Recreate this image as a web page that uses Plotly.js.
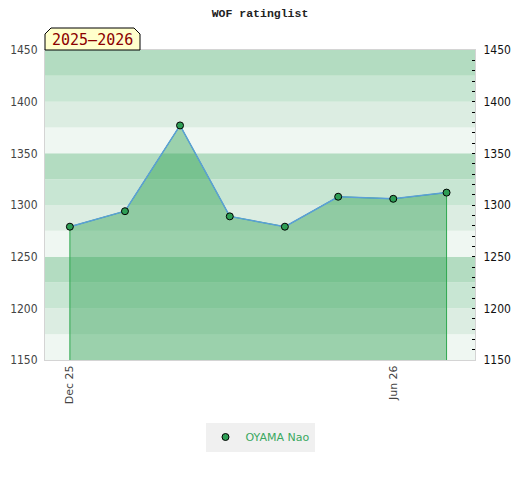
<!DOCTYPE html>
<html>
<head>
<meta charset="utf-8">
<script src="https://cdn.plot.ly/plotly-3.0.1.min.js"></script>
<style>html,body{margin:0;padding:0;background:#fff;}#chart{width:520px;height:480px;}</style>
</head>
<body>
<div id="chart"></div>
<script>
// ---- data ----
const months = ['2025-12-01','2026-01-01','2026-02-01','2026-03-01','2026-04-01','2026-05-01','2026-06-01','2026-07-01'];
const ratings = [1279, 1294, 1377, 1289, 1279, 1308, 1306, 1312];
const playerName = 'OYAMA Nao';
const seasonLabel = '2025–2026';
const chartTitle = 'WOF ratinglist';

// ---- layout geometry / styles ----
const W = 520, H = 480;
const M = {l:45, r:45, t:50, b:120};
const yRange = [1150, 1450];
const xRange = ['2025-11-17', '2026-07-17'];
const bandStep = 25;
const bandColors = ['rgb(239,247,242)','rgb(220,237,226)','rgb(200,230,211)','rgb(179,220,193)'];
const axisFont = 'DejaVu Sans Condensed, DejaVu Sans, sans-serif';

const shapes = [];
let i = 0;
for (let v = yRange[0]; v < yRange[1]; v += bandStep, i++) {
  shapes.push({type:'rect', xref:'paper', yref:'y', x0:0, x1:1, y0:v, y1:v + bandStep,
    fillcolor: bandColors[i % 4], line:{width:0}, layer:'below'});
}

// label box with clipped top corners (pixel -> paper)
const pw = W - M.l - M.r, ph = H - M.t - M.b;
const px = p => (p - M.l) / pw;
const py = p => (H - M.b - p) / ph;
const bx0 = 45, bx1 = 140, byT = 28, byB = 50, c = 6;
shapes.push({type:'path', xref:'paper', yref:'paper',
  path: `M ${px(bx0)},${py(byB)} L ${px(bx0)},${py(byT + c)} L ${px(bx0 + c)},${py(byT)} L ${px(bx1 - c)},${py(byT)} L ${px(bx1)},${py(byT + c)} L ${px(bx1)},${py(byB)} Z`,
  fillcolor:'#ffffcc', line:{color:'#000', width:1}, layer:'above'});

const fillX = [months[0]].concat(months, [months[months.length - 1]]);
const fillY = [0].concat(ratings, [0]);

const traces = [
  {x: fillX, y: fillY, type:'scatter', mode:'lines', fill:'toself',
   fillcolor:'rgba(38,158,76,0.42)', line:{color:'#2ea84f', width:1},
   hoverinfo:'skip', showlegend:false},
  {x: months, y: ratings, type:'scatter', mode:'lines',
   line:{color:'#5b9fd8', width:1.5}, showlegend:false, hoverinfo:'skip'},
  {x: months, y: ratings, type:'scatter', mode:'markers', name: playerName,
   marker:{color:'#2e9e55', size:7, line:{color:'#000', width:1}}}
];

const layout = {
  width: W, height: H,
  margin: M,
  paper_bgcolor:'#fff', plot_bgcolor:'rgba(0,0,0,0)',
  title: {text: '<b>' + chartTitle + '</b>', font:{family:'Liberation Mono, DejaVu Sans Mono, monospace', size:11.5, color:'#222'},
          x:0.5, xanchor:'center', y:1 - 13/H, yanchor:'middle', yref:'container'},
  xaxis: {type:'date', range:xRange, tick0:'2025-12-01', dtick:'M6', tickformat:'%b %y',
          tickangle:-90, showgrid:false, zeroline:false, ticks:'',
          showline:true, linecolor:'#d4d4d4', linewidth:1, mirror:true,
          tickfont:{family:'DejaVu Sans, sans-serif', size:11, color:'#444'}},
  yaxis: {range:yRange, dtick:50, tick0:1150, showgrid:false, zeroline:false,
          ticks:'outside', ticklen:4, tickcolor:'rgba(0,0,0,0)',
          showline:true, linecolor:'#d4d4d4', linewidth:1,
          tickfont:{family:axisFont, size:12, color:'#444'}},
  yaxis2: {range:yRange, overlaying:'y', side:'right', dtick:50, tick0:1150,
           showgrid:false, zeroline:false, ticks:'inside', ticklen:3, tickcolor:'#000',
           minor:{dtick:10, tick0:1150, ticks:'inside', ticklen:3, tickcolor:'#000', showgrid:false},
           showline:true, linecolor:'#d4d4d4', linewidth:1, ticklabelstandoff:5,
           tickfont:{family:axisFont, size:12, color:'#111'}},
  showlegend:true,
  legend: {orientation:'h', x:0.5, xanchor:'center', y:(H - M.b - 437) / ph, yanchor:'middle',
           bgcolor:'#f0f0f0', font:{family:'DejaVu Sans, sans-serif', size:11, color:'#3aa860'}},
  shapes: shapes,
  annotations: [
    {xref:'paper', yref:'paper', x:px((bx0 + bx1) / 2), y:py((byT + byB) / 2 + 1), xanchor:'center', yanchor:'middle',
     text: seasonLabel, showarrow:false,
     font:{family:'DejaVu Sans Mono, monospace', size:15, color:'#8b0000'}}
  ]
};

// dummy trace for right axis
traces.push({x:[months[0]], y:[ratings[0]], yaxis:'y2', type:'scatter', mode:'markers',
  marker:{opacity:0}, showlegend:false, hoverinfo:'skip'});

Plotly.newPlot('chart', traces, layout, {displayModeBar:false, staticPlot:true});
</script>
</body>
</html>
